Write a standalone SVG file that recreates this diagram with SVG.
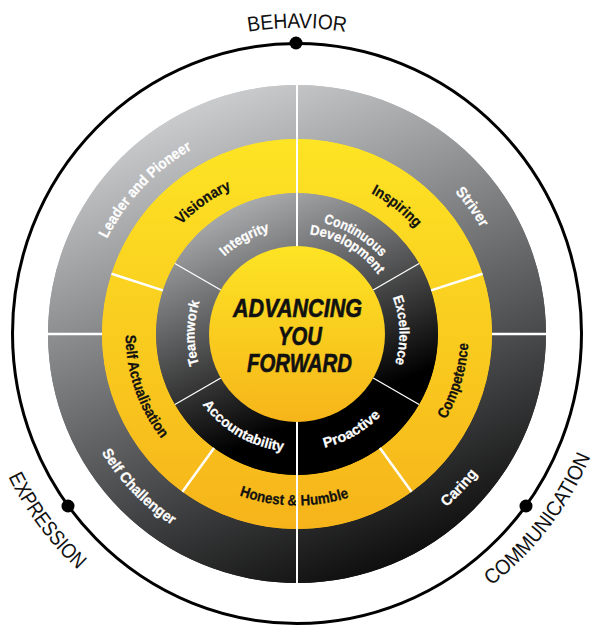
<svg xmlns="http://www.w3.org/2000/svg" xmlns:xlink="http://www.w3.org/1999/xlink" width="594" height="625" viewBox="0 0 594 625">
<defs>
<linearGradient id="gOuter" gradientUnits="userSpaceOnUse" x1="120" y1="130" x2="327" y2="634">
<stop offset="0" stop-color="#cdced0"/><stop offset="0.5" stop-color="#646567"/><stop offset="1" stop-color="#000"/>
</linearGradient>
<linearGradient id="gInner" gradientUnits="userSpaceOnUse" x1="190" y1="215" x2="279" y2="431">
<stop offset="0" stop-color="#b0b1b3"/><stop offset="1" stop-color="#000"/>
</linearGradient>
<linearGradient id="gY" gradientUnits="userSpaceOnUse" x1="0" y1="139" x2="0" y2="529">
<stop offset="0" stop-color="#fde424"/><stop offset="1" stop-color="#f6b41a"/>
</linearGradient>
<linearGradient id="gC" gradientUnits="userSpaceOnUse" x1="0" y1="246" x2="0" y2="422">
<stop offset="0" stop-color="#fde424"/><stop offset="1" stop-color="#f6b51a"/>
</linearGradient>
<path id="p213cw" d="M84.5 334 A212.5 212.5 0 0 1 509.5 334"/>
<path id="p228ccw" d="M68.5 334 A228.5 228.5 0 0 0 525.5 334"/>
<path id="p159cw" d="M138 334 A159 159 0 0 1 456 334"/>
<path id="p171ccw" d="M125.5 334 A171.5 171.5 0 0 0 468.5 334"/>
<path id="p106cw" d="M191 334 A106 106 0 0 1 403 334"/>
<path id="p114cw" d="M183 334 A114 114 0 0 1 411 334"/>
<path id="p101cw" d="M196.5 334 A100.5 100.5 0 0 1 397.5 334"/>
<path id="p103cw" d="M194.5 334 A102.5 102.5 0 0 1 399.5 334"/>
<path id="p116ccw" d="M180 334 A117 117 0 0 0 414 334"/>
<path id="p117ccw" d="M179 334 A118 118 0 0 0 415 334"/>
<path id="p306cw" d="M-9 334 A306 306 0 0 1 603 334"/>
<path id="p322ccw" d="M-25 334 A322 322 0 0 0 619 334"/>
<path id="p318ccw" d="M-21 334 A318 318 0 0 0 615 334"/>
</defs>
<style>
.lab{font-family:"Liberation Sans",Arial,sans-serif;font-weight:bold;text-anchor:middle}
.w{fill:#fff;stroke:#fff;stroke-width:0.25;font-size:15px}
.k{fill:#111;stroke:#111;stroke-width:0.25;font-size:15px}
.wi{fill:#fff;stroke:#fff;stroke-width:0.25;font-size:14px}
.axis{font-family:"Liberation Sans",Arial,sans-serif;font-size:21px;fill:#111;text-anchor:middle}
.ctr{font-family:"Liberation Sans",Arial,sans-serif;font-weight:bold;font-style:italic;font-size:25px;fill:#111;stroke:#111;stroke-width:0.6;text-anchor:middle}
.div{stroke:#fff;fill:none}
</style>
<rect width="594" height="625" fill="#fff"/>

<g id="frame">
<ellipse cx="297" cy="333.5" rx="284.5" ry="290" fill="none" stroke="#000" stroke-width="3"/>
<circle cx="296" cy="43" r="6.5" fill="#000"/>
<circle cx="68" cy="506" r="6.5" fill="#000"/>
<circle cx="526" cy="506" r="6.5" fill="#000"/>
<text class="axis"><textPath href="#p306cw" startOffset="50%" textLength="98" lengthAdjust="spacingAndGlyphs">BEHAVIOR</textPath></text>
<text class="axis" transform="rotate(53.3 297 334)"><textPath href="#p322ccw" startOffset="50%" textLength="117" lengthAdjust="spacingAndGlyphs">EXPRESSION</textPath></text>
<text class="axis" transform="rotate(-52.5 297 334)"><textPath href="#p318ccw" startOffset="50%" textLength="165" lengthAdjust="spacingAndGlyphs">COMMUNICATION</textPath></text>
</g>

<g id="backing">
<circle cx="297" cy="334" r="249" fill="url(#gOuter)"/>
<circle cx="297" cy="334" r="195" fill="url(#gY)"/>
<circle cx="297" cy="334" r="141" fill="url(#gInner)"/>
</g>

<g id="node-striver">
<path d="M297 85 A249 249 0 0 1 546 334 L492 334 A195 195 0 0 0 297 139 Z" fill="url(#gOuter)"/>
<text class="lab w" transform="rotate(54 297 334)"><textPath href="#p213cw" startOffset="50%" textLength="44" lengthAdjust="spacingAndGlyphs">Striver</textPath></text>
</g>
<g id="node-caring">
<path d="M546 334 A249 249 0 0 1 297 583 L297 529 A195 195 0 0 0 492 334 Z" fill="url(#gOuter)"/>
<text class="lab w" transform="rotate(-46.5 297 334)"><textPath href="#p228ccw" startOffset="50%" textLength="46" lengthAdjust="spacingAndGlyphs">Caring</textPath></text>
</g>
<g id="node-self-challenger">
<path d="M297 583 A249 249 0 0 1 48 334 L102 334 A195 195 0 0 0 297 529 Z" fill="url(#gOuter)"/>
<text class="lab w" transform="rotate(46 297 334)"><textPath href="#p228ccw" startOffset="50%" textLength="102" lengthAdjust="spacingAndGlyphs">Self Challenger</textPath></text>
</g>
<g id="node-leader-pioneer">
<path d="M48 334 A249 249 0 0 1 297 85 L297 139 A195 195 0 0 0 102 334 Z" fill="url(#gOuter)"/>
<text class="lab w" transform="rotate(-46.5 297 334)"><textPath href="#p213cw" startOffset="50%" textLength="125" lengthAdjust="spacingAndGlyphs">Leader and Pioneer</textPath></text>
</g>

<g id="node-inspiring">
<path d="M297 139 A195 195 0 0 1 482.5 273.7 L431.1 290.4 A141 141 0 0 0 297 193 Z" fill="url(#gY)"/>
<text class="lab k" transform="rotate(38 297 334)"><textPath href="#p159cw" startOffset="50%" textLength="57" lengthAdjust="spacingAndGlyphs">Inspiring</textPath></text>
</g>
<g id="node-competence">
<path d="M482.5 273.7 A195 195 0 0 1 411.6 491.8 L379.9 448.1 A141 141 0 0 0 431.1 290.4 Z" fill="url(#gY)"/>
<text class="lab k" transform="rotate(-73.5 297 334)"><textPath href="#p171ccw" startOffset="50%" textLength="80" lengthAdjust="spacingAndGlyphs">Competence</textPath></text>
</g>
<g id="node-honest-humble">
<path d="M411.6 491.8 A195 195 0 0 1 182.4 491.8 L214.1 448.1 A141 141 0 0 0 379.9 448.1 Z" fill="url(#gY)"/>
<text class="lab k" transform="rotate(1 297 334)"><textPath href="#p171ccw" startOffset="50%" textLength="112" lengthAdjust="spacingAndGlyphs">Honest &amp; Humble</textPath></text>
</g>
<g id="node-self-actualisation">
<path d="M182.4 491.8 A195 195 0 0 1 111.5 273.7 L162.9 290.4 A141 141 0 0 0 214.1 448.1 Z" fill="url(#gY)"/>
<text class="lab k" transform="rotate(71 297 334)"><textPath href="#p171ccw" startOffset="50%" textLength="112" lengthAdjust="spacingAndGlyphs">Self Actualisation</textPath></text>
</g>
<g id="node-visionary">
<path d="M111.5 273.7 A195 195 0 0 1 297 139 L297 193 A141 141 0 0 0 162.9 290.4 Z" fill="url(#gY)"/>
<text class="lab k" transform="rotate(-35.5 297 334)"><textPath href="#p159cw" startOffset="50%" textLength="62" lengthAdjust="spacingAndGlyphs">Visionary</textPath></text>
</g>

<g id="node-continuous-development">
<path d="M297 193 A141 141 0 0 1 419.1 263.5 L373.2 290 A88 88 0 0 0 297 246 Z" fill="url(#gInner)"/>
<text class="lab wi" transform="rotate(30.5 297 334)"><textPath href="#p114cw" startOffset="50%" textLength="68" lengthAdjust="spacingAndGlyphs">Continuous</textPath></text>
<text class="lab wi" transform="rotate(30.5 297 334)"><textPath href="#p101cw" startOffset="50%" textLength="82" lengthAdjust="spacingAndGlyphs">Development</textPath></text>
</g>
<g id="node-excellence">
<path d="M419.1 263.5 A141 141 0 0 1 419.1 404.5 L373.2 378 A88 88 0 0 0 373.2 290 Z" fill="url(#gInner)"/>
<text class="lab wi" transform="rotate(88 297 334)"><textPath href="#p103cw" startOffset="50%" textLength="68" lengthAdjust="spacingAndGlyphs">Excellence</textPath></text>
</g>
<g id="node-proactive">
<path d="M419.1 404.5 A141 141 0 0 1 297 475 L297 422 A88 88 0 0 0 373.2 378 Z" fill="url(#gInner)"/>
<text class="lab wi" transform="rotate(-29.7 297 334)"><textPath href="#p116ccw" startOffset="50%" textLength="66" lengthAdjust="spacingAndGlyphs">Proactive</textPath></text>
</g>
<g id="node-accountability">
<path d="M297 475 A141 141 0 0 1 174.9 404.5 L220.8 378 A88 88 0 0 0 297 422 Z" fill="url(#gInner)"/>
<text class="lab wi" transform="rotate(30 297 334)"><textPath href="#p117ccw" startOffset="50%" textLength="96" lengthAdjust="spacingAndGlyphs">Accountability</textPath></text>
</g>
<g id="node-teamwork">
<path d="M174.9 404.5 A141 141 0 0 1 174.9 263.5 L220.8 290 A88 88 0 0 0 220.8 378 Z" fill="url(#gInner)"/>
<text class="lab wi" transform="rotate(-89.5 297 334)"><textPath href="#p103cw" startOffset="50%" textLength="64" lengthAdjust="spacingAndGlyphs">Teamwork</textPath></text>
</g>
<g id="node-integrity">
<path d="M174.9 263.5 A141 141 0 0 1 297 193 L297 246 A88 88 0 0 0 220.8 290 Z" fill="url(#gInner)"/>
<text class="lab wi" transform="rotate(-29 297 334)"><textPath href="#p106cw" startOffset="50%" textLength="52" lengthAdjust="spacingAndGlyphs">Integrity</textPath></text>
</g>

<g id="dividers">
<line class="div" x1="297" y1="84" x2="297" y2="246" stroke-width="2"/>
<line class="div" x1="297" y1="422" x2="297" y2="584" stroke-width="2"/>
<line class="div" x1="47" y1="334" x2="102" y2="334" stroke-width="2.5"/>
<line class="div" x1="492" y1="334" x2="547" y2="334" stroke-width="2.5"/>
<line class="div" x1="431.1" y1="290.4" x2="482.5" y2="273.7" stroke-width="2.5"/>
<line class="div" x1="162.9" y1="290.4" x2="111.5" y2="273.7" stroke-width="2.5"/>
<line class="div" x1="379.9" y1="448.1" x2="411.6" y2="491.8" stroke-width="2.5"/>
<line class="div" x1="214.1" y1="448.1" x2="182.4" y2="491.8" stroke-width="2.5"/>
<line class="div" x1="373.2" y1="290" x2="419.1" y2="263.5" stroke-width="1.3"/>
<line class="div" x1="373.2" y1="378" x2="419.1" y2="404.5" stroke-width="1.3"/>
<line class="div" x1="220.8" y1="378" x2="174.9" y2="404.5" stroke-width="1.3"/>
<line class="div" x1="220.8" y1="290" x2="174.9" y2="263.5" stroke-width="1.3"/>
</g>

<g id="node-center">
<circle cx="297" cy="334" r="88" fill="url(#gC)"/>
<text class="ctr" x="297.5" y="317" textLength="129" lengthAdjust="spacingAndGlyphs">ADVANCING</text>
<text class="ctr" x="300" y="345" textLength="44" lengthAdjust="spacingAndGlyphs">YOU</text>
<text class="ctr" x="299.5" y="372" textLength="105" lengthAdjust="spacingAndGlyphs">FORWARD</text>
</g>
</svg>
